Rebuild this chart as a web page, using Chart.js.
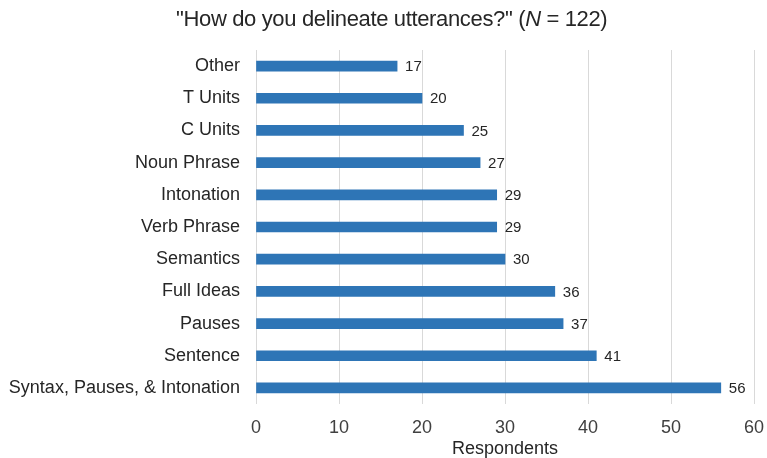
<!DOCTYPE html>
<html>
<head>
<meta charset="utf-8">
<script src="https://cdn.jsdelivr.net/npm/chart.js@4"></script>
<style>
  html, body { margin: 0; padding: 0; background: #fff; }
  #wrap { position: relative; width: 767px; height: 458px; }
  #title {
    position: absolute; left: 176px; top: 6px; white-space: nowrap;
    font: 22px 'Liberation Sans', Arial, sans-serif; letter-spacing: -0.35px; color: #262626;
  }
  canvas { position: absolute; left: 0; top: 0; }
</style>
</head>
<body>
<div id="wrap">
  <canvas id="chart" width="767" height="458"></canvas>
  <div id="title">"How do you delineate utterances?" (<i>N</i> = 122)</div>
</div>
<script>
// Survey answers, top row first
const categories = ['Other', 'T Units', 'C Units', 'Noun Phrase', 'Intonation', 'Verb Phrase',
  'Semantics', 'Full Ideas', 'Pauses', 'Sentence', 'Syntax, Pauses, & Intonation'];
const respondents = [17, 20, 25, 27, 29, 29, 30, 36, 37, 41, 56];
const xTicks = [0, 10, 20, 30, 40, 50, 60];

const FONT = "'Liberation Sans', Arial, sans-serif";
const BLUE = '#2E75B6';

// writes the count just past the end of each bar
const barValues = {
  id: 'barValues',
  afterDatasetsDraw(chart) {
    const { ctx } = chart;
    const meta = chart.getDatasetMeta(0);
    ctx.save();
    ctx.font = '15px ' + FONT;
    ctx.fillStyle = '#262626';
    ctx.textBaseline = 'middle';
    meta.data.forEach((bar, i) => {
      ctx.fillText(respondents[i], bar.x + 8, bar.y + 1);
    });
    ctx.restore();
  }
};

new Chart(document.getElementById('chart'), {
  type: 'bar',
  data: {
    labels: categories,
    datasets: [{
      data: respondents,
      backgroundColor: BLUE,
      barThickness: 10,
    }]
  },
  options: {
    indexAxis: 'y',
    responsive: false,
    animation: false,
    layout: { padding: { top: 50, right: 13, bottom: 0, left: 0 } },
    plugins: { legend: { display: false }, tooltip: { enabled: false } },
    scales: {
      x: {
        min: 0, max: 60,
        afterBuildTicks: s => { s.ticks = xTicks.map(v => ({ value: v })); },
        afterFit: s => { s.height = 54; s.paddingLeft = 0; s.paddingRight = 0; },
        grid: { color: '#d9d9d9', drawTicks: false },
        border: { display: false },
        ticks: { color: '#404040', font: { family: FONT, size: 18 }, padding: 13 },
        title: { display: true, text: 'Respondents', color: '#262626', font: { family: FONT, size: 18 }, padding: { top: 0, bottom: -2 } }
      },
      y: {
        afterFit: s => { s.width = 256; },
        grid: { display: false },
        border: { display: false },
        ticks: { color: '#262626', font: { family: FONT, size: 18 }, padding: 8 }
      }
    }
  },
  plugins: [barValues]
});
</script>
</body>
</html>
